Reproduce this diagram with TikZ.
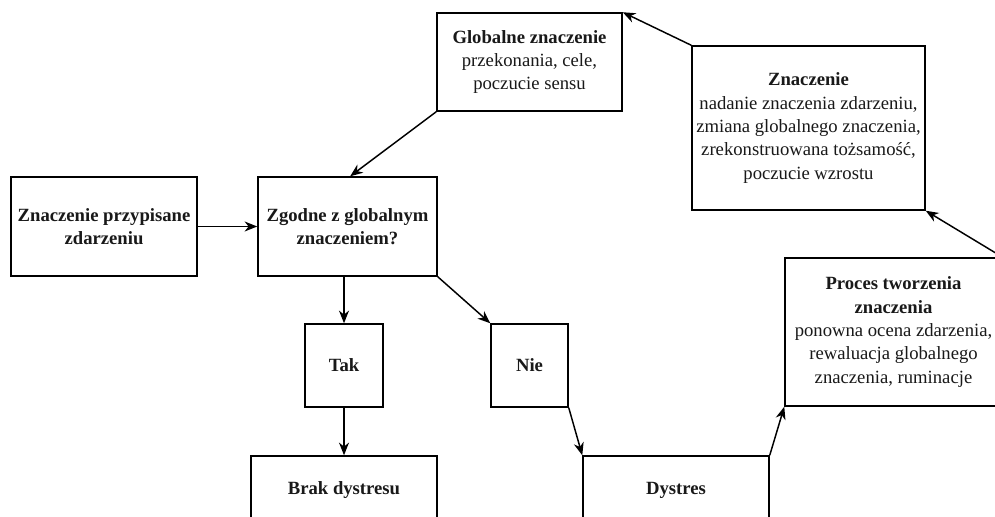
\documentclass[tikz,border=0pt]{standalone}
\usepackage{fontspec}
\setmainfont{Liberation Serif}
\usetikzlibrary{arrows.meta}
\begin{document}
\begin{tikzpicture}[x=0.75pt,y=-0.75pt,
  box/.style={draw=black, line width=1.1pt, fill=white, align=center, inner sep=0pt,
    font=\fontsize{14}{17.5}\selectfont, text=black!90},
  conn/.style={line width=1.1pt, -{Stealth[length=9.5pt,width=7.5pt,inset=3pt]}}]
\useasboundingbox (0,0) rectangle (995,517);
\clip (0,0) rectangle (995,517);
\fill[white] (0,0) rectangle (995,517);
\node[box, minimum width=186*0.75pt, minimum height=99*0.75pt] (A) at (104,226.5)
  {\textbf{Znaczenie przypisane}\\\textbf{zdarzeniu}};
\node[box, minimum width=179*0.75pt, minimum height=99*0.75pt] (B) at (347.5,226.5)
  {\textbf{Zgodne z globalnym}\\\textbf{znaczeniem?}};
\node[box, minimum width=185*0.75pt, minimum height=98*0.75pt] (G) at (529.5,62)
  {\textbf{Globalne znaczenie}\\przekonania, cele,\\poczucie sensu};
\node[box, minimum width=233*0.75pt, minimum height=164*0.75pt] (Z) at (808.5,128)
  {\textbf{Znaczenie}\\nadanie znaczenia zdarzeniu,\\zmiana globalnego znaczenia,\\zrekonstruowana tożsamość,\\poczucie wzrostu};
\node[box, minimum width=217*0.75pt, minimum height=148*0.75pt] (P) at (893.5,332)
  {\textbf{Proces tworzenia}\\\textbf{znaczenia}\\ponowna ocena zdarzenia,\\rewaluacja globalnego\\znaczenia, ruminacje};
\node[box, minimum width=78*0.75pt, minimum height=83*0.75pt] (T) at (344,365.5) {\textbf{Tak}};
\node[box, minimum width=77*0.75pt, minimum height=83*0.75pt] (N) at (529.5,365.5) {\textbf{Nie}};
\node[box, minimum width=186*0.75pt, minimum height=68*0.75pt] (BD) at (344,490) {\textbf{Brak dystresu}};
\node[box, minimum width=186*0.75pt, minimum height=68*0.75pt] (D) at (676,490) {\textbf{Dystres}};
\draw[conn] (A.east) -- (B.west);
\draw[conn] (G.south west) -- ([xshift=2pt]B.north);
\draw[conn] (B.south -| T.north) -- (T.north);
\draw[conn] (B.south east) -- (N.north west);
\draw[conn] (T.south) -- (BD.north);
\draw[conn] (N.south east) -- (D.north west);
\draw[conn] (D.north east) -- (P.south west);
\draw[conn] (P.north east) -- (Z.south east);
\draw[conn] (Z.north west) -- (G.north east);
\end{tikzpicture}
\end{document}
